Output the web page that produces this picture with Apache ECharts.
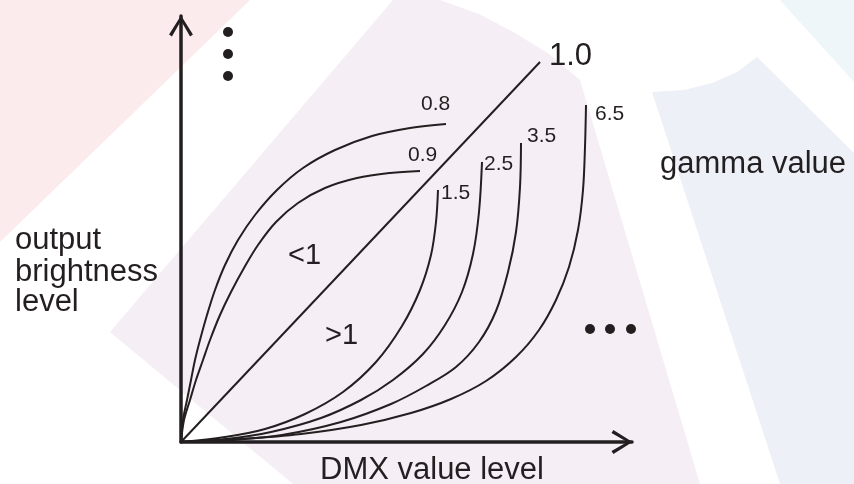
<!DOCTYPE html>
<html>
<head>
<meta charset="utf-8">
<title>gamma curves</title>
<script src="https://cdn.jsdelivr.net/npm/echarts@6.0.0/dist/echarts.min.js"></script>
<style>
html, body { margin: 0; padding: 0; background: #fff; }
#gammaChart { width: 854px; height: 484px; }
</style>
</head>
<body>
<div id="gammaChart"></div>
<script>
// curve points: [DMX value level, output brightness level]
var gamma08 = [[0,0],[2,22],[6,42],[10,62],[14,82],[19,102],[26,127],[34,152],[44,177],[57,202],[74,227],[96,252],[122,274],[154,292],[191,306],[229,314],[265,318]];
var gamma09 = [[0,0],[3,22],[9,42],[15,62],[22,82],[29,102],[39,127],[50,150],[63,174],[77,197],[95,220],[117,239],[144,254],[176,264],[209,269],[239,271]];
var gamma10 = [[0,0],[359,380]];
var gamma15 = [[0,0],[44,5],[84,13],[124,28],[162,50],[195,80],[221,116],[239,152],[250,187],[255,220],[257,252]];
var gamma25 = [[0,0],[45,3],[90,10],[140,24],[180,42],[212,62],[242,88],[264,117],[281,150],[292,188],[298,230],[301,280]];
var gamma35 = [[0,0],[50,2],[101,7],[160,20],[210,38],[245,56],[275,75],[298,100],[315,131],[327,170],[335,210],[339,255],[340,299]];
var gamma65 = [[0,0],[60,3],[120,8],[180,17],[230,29],[270,43],[305,61],[335,85],[358,112],[375,142],[388,175],[397,212],[402,252],[404,295],[405,337]];
var curveNames = ['0.8', '0.9', '1.0', '1.5', '2.5', '3.5', '6.5'];
var curveDatas = [gamma08, gamma09, gamma10, gamma15, gamma25, gamma35, gamma65];
// the "more curves" dots
var dotsUp = [[47,410],[47,388],[47,366]];
var dotsRight = [[409,113],[429,113],[450,113]];

var inkColor = '#231f20';
var fontName = '"Liberation Sans", Arial, sans-serif';
// open arrow head, pointing up before the axis turns it
var arrowPath = 'path://M0 40 L25 0 L50 40 L44 44 L25 11 L6 44 Z';

var gammaChartInit = function() {
	var gammaChart = echarts.init(document.getElementById('gammaChart'));

	var series = [];
	for (var i = 0; i < curveDatas.length; i++) {
		series.push({
			name : curveNames[i],
			type : 'line',
			smooth : curveDatas[i].length > 2 ? 0.35 : false,
			showSymbol : false,
			silent : true,
			z : 3,
			lineStyle : { color : inkColor, width : 2 },
			data : curveDatas[i]
		});
	}
	series.push({
		type : 'scatter',
		symbolSize : 10,
		silent : true,
		clip : false,
		itemStyle : { color : inkColor, opacity : 1 },
		data : dotsUp.concat(dotsRight)
	});

	// text pieces: [text, x, y, size]
	var texts = [
		['1.0', 549, 56, 31], ['0.8', 421, 104, 21], ['0.9', 408, 155, 21],
		['1.5', 441, 193, 21], ['2.5', 484, 164, 21], ['3.5', 527, 136, 21],
		['6.5', 595, 114, 21], ['<1', 288, 256, 29], ['>1', 325, 336, 29],
		['gamma value', 660, 164, 31], ['output', 15, 240, 31],
		['brightness', 15, 272, 31], ['level', 15, 302, 31],
		['DMX value level', 320, 470, 31]
	];
	var graphics = [
		{ type : 'polygon', z : -10, silent : true,
			shape : { points : [[0,0],[250,0],[0,242]] },
			style : { fill : '#fcebec' } },
		{ type : 'polygon', z : -10, silent : true,
			shape : { points : [[393,0],[440,0],[479,14],[515,33],[549,54],[580,80],[700,484],[293,484],[110,332]] },
			style : { fill : '#f6eef5' } },
		{ type : 'polygon', z : -10, silent : true,
			shape : { points : [[652,92],[684,90],[712,83],[737,72],[757,57],[854,153],[854,484],[780,484]] },
			style : { fill : '#edf0f7' } },
		{ type : 'polygon', z : -10, silent : true,
			shape : { points : [[780,0],[854,0],[854,82]] },
			style : { fill : '#eef6fa' } }
	];
	for (var j = 0; j < texts.length; j++) {
		graphics.push({
			type : 'text', z : 100, silent : true,
			x : texts[j][1], y : texts[j][2],
			style : {
				text : texts[j][0],
				fill : inkColor,
				font : texts[j][3] + 'px ' + fontName,
				align : 'left', verticalAlign : 'middle',
				textAlign : 'left', textVerticalAlign : 'middle'
			}
		});
	}

	var axisLine = {
		show : true,
		symbol : [ 'none', arrowPath ],
		symbolSize : [ 24, 21 ],
		symbolOffset : [ 0, -10 ],
		lineStyle : { color : inkColor, width : 3.5 }
	};

	var optionGamma = {
		backgroundColor : '#ffffff',
		animation : false,
		grid : { left : 181, top : 16, right : 222, bottom : 42 },
		xAxis : {
			type : 'value', min : 0, max : 451,
			axisLine : axisLine,
			axisTick : { show : false }, axisLabel : { show : false },
			splitLine : { show : false }
		},
		yAxis : {
			type : 'value', min : 0, max : 426,
			axisLine : axisLine,
			axisTick : { show : false }, axisLabel : { show : false },
			splitLine : { show : false }
		},
		graphic : graphics,
		series : series
	};
	gammaChart.setOption(optionGamma);
};
gammaChartInit();
</script>
</body>
</html>
